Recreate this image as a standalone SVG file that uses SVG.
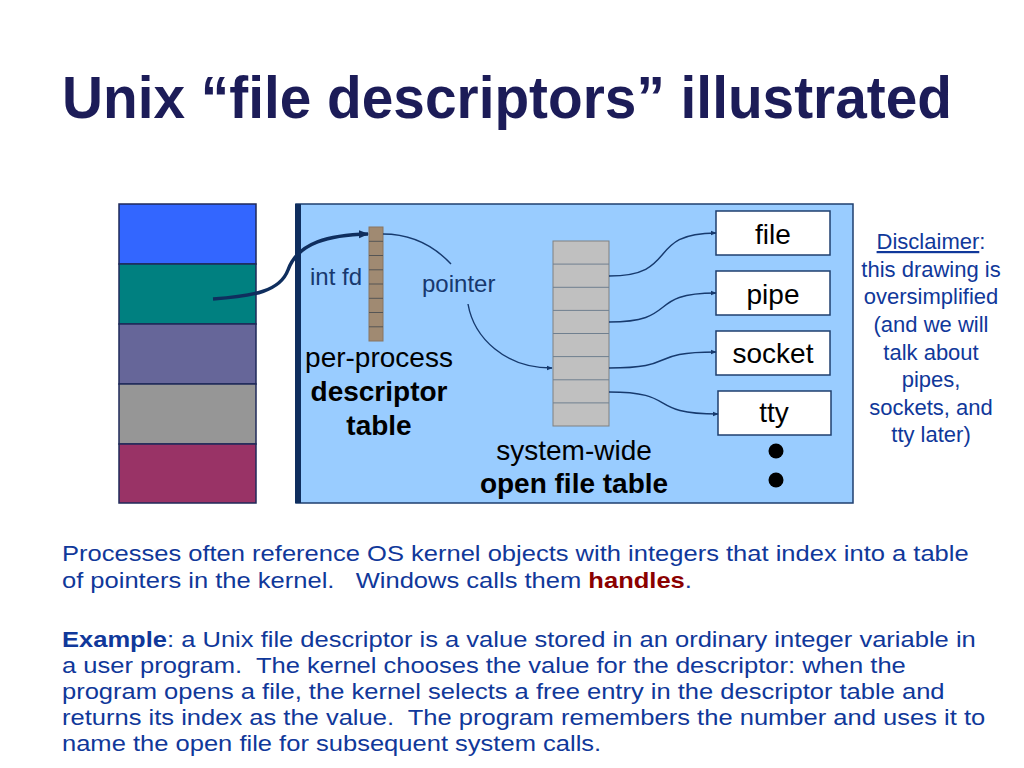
<svg xmlns="http://www.w3.org/2000/svg" width="1024" height="768" viewBox="0 0 1024 768">
<defs>
<style>
text{font-family:"Liberation Sans",Arial,sans-serif}
.title{font-size:60px;font-weight:bold;fill:#1C1C58}
.body{font-size:21.5px;fill:#10389A}
.lbl{font-size:28px;fill:#000}
.small{font-size:24px;fill:#17386E}
.disc{font-size:22px;fill:#10389A;text-anchor:middle}
.box{fill:#fff;stroke:#1F3F6F;stroke-width:1.5}
.conn{fill:none;stroke:#173A6E;stroke-width:1.4}
.cell{fill:none;stroke:#555;stroke-width:1}
</style>
<marker id="ah" viewBox="0 0 10 10" refX="9" refY="5" markerWidth="6" markerHeight="6" orient="auto" markerUnits="userSpaceOnUse">
<path d="M0,1 L10,5 L0,9 z" fill="#173A6E"/>
</marker>
<marker id="ahb" viewBox="0 0 10 10" refX="9" refY="5" markerWidth="10" markerHeight="10" orient="auto" markerUnits="userSpaceOnUse">
<path d="M0,1 L10,5 L0,9 z" fill="#0F2E5E"/>
</marker>
</defs>
<rect width="1024" height="768" fill="#fff"/>
<text class="title" x="62" y="118" textLength="890" lengthAdjust="spacingAndGlyphs">Unix “file descriptors” illustrated</text>

<g id="process-memory">
<rect x="119" y="204" width="137" height="60" fill="#3366FF" stroke="#1F2A5A" stroke-width="1.5"/>
<rect x="119" y="264" width="137" height="60" fill="#008080" stroke="#1F2A5A" stroke-width="1.5"/>
<rect x="119" y="324" width="137" height="60" fill="#666699" stroke="#1F2A5A" stroke-width="1.5"/>
<rect x="119" y="384" width="137" height="60" fill="#969696" stroke="#1F2A5A" stroke-width="1.5"/>
<rect x="119" y="444" width="137" height="59" fill="#993366" stroke="#1F2A5A" stroke-width="1.5"/>
</g>

<g id="kernel">
<rect x="296" y="204" width="557" height="299" fill="#99CCFF" stroke="#1F3F6F" stroke-width="1.5"/>
<rect x="295" y="204" width="6" height="299" fill="#0F2E5E"/>
</g>

<g id="descriptor-table">
<rect x="369" y="227" width="14" height="114" fill="#A08A72" stroke="#8A7560" stroke-width="1"/>
<path class="cell" d="M369,241.3H383M369,255.5H383M369,269.8H383M369,284H383M369,298.3H383M369,312.5H383M369,326.8H383"/>
<text class="small" x="310" y="285">int fd</text>
<text class="lbl" x="379" y="367" text-anchor="middle">per-process</text>
<text class="lbl" x="379" y="401" text-anchor="middle" font-weight="bold">descriptor</text>
<text class="lbl" x="379" y="435" text-anchor="middle" font-weight="bold">table</text>
</g>

<g id="open-file-table">
<rect x="553" y="241" width="56" height="185" fill="#C0C0C0" stroke="#808080" stroke-width="1"/>
<path d="M553,264.1H609M553,287.3H609M553,310.4H609M553,333.5H609M553,356.6H609M553,379.8H609M553,402.9H609" fill="none" stroke="#6F7F8F" stroke-width="1"/>
<text class="lbl" x="574" y="460" text-anchor="middle">system-wide</text>
<text class="lbl" x="574" y="493" text-anchor="middle" font-weight="bold">open file table</text>
</g>

<g id="file"><rect class="box" x="716" y="211" width="114" height="44"/><text class="lbl" x="773" y="244" text-anchor="middle">file</text></g>
<g id="pipe"><rect class="box" x="716" y="271" width="114" height="44"/><text class="lbl" x="773" y="304" text-anchor="middle">pipe</text></g>
<g id="socket"><rect class="box" x="716" y="331" width="114" height="44"/><text class="lbl" x="773" y="363" text-anchor="middle">socket</text></g>
<g id="tty"><rect class="box" x="718" y="391" width="113" height="44"/><text class="lbl" x="774" y="422" text-anchor="middle">tty</text></g>
<g id="more">
<circle cx="776" cy="451" r="7.5" fill="#000"/>
<circle cx="776" cy="480" r="7.5" fill="#000"/>
</g>

<g id="connectors">
<path d="M213,299 C255,296 280,291 288,270 C298,242 330,235 368,234" fill="none" stroke="#0F2E5E" stroke-width="3.5" marker-end="url(#ahb)"/>
<path class="conn" d="M383,234 C412,234 435,247 451,264"/>
<path class="conn" d="M468,304 C474,338 505,368 552,368" marker-end="url(#ah)"/>
<path class="conn" d="M609,276 C680,276 645,233 716,233" marker-end="url(#ah)"/>
<path class="conn" d="M609,322 C680,322 645,293 716,293" marker-end="url(#ah)"/>
<path class="conn" d="M609,368 C680,368 645,352 716,352" marker-end="url(#ah)"/>
<path class="conn" d="M609,392 C680,392 645,414 718,414" marker-end="url(#ah)"/>
</g>
<text class="small" x="422" y="292">pointer</text>

<g id="disclaimer">
<text class="disc" x="931" y="249"><tspan text-decoration="underline">Disclaimer</tspan>:</text>
<text class="disc" x="931" y="277">this drawing is</text>
<text class="disc" x="931" y="304">oversimplified</text>
<text class="disc" x="931" y="332">(and we will</text>
<text class="disc" x="931" y="360">talk about</text>
<text class="disc" x="931" y="387">pipes,</text>
<text class="disc" x="931" y="415">sockets, and</text>
<text class="disc" x="931" y="442">tty later)</text>
</g>

<g id="body-text" transform="matrix(1.188,0,0,1,-11.66,0)">
<text class="body" x="62" y="561">Processes often reference OS kernel objects with integers that index into a table</text>
<text class="body" x="62" y="588" xml:space="preserve">of pointers in the kernel.   Windows calls them <tspan font-weight="bold" fill="#8B0000">handles</tspan>.</text>
<text class="body" x="62" y="647"><tspan font-weight="bold">Example</tspan>: a Unix file descriptor is a value stored in an ordinary integer variable in</text>
<text class="body" x="62" y="673" xml:space="preserve">a user program.  The kernel chooses the value for the descriptor: when the</text>
<text class="body" x="62" y="699">program opens a file, the kernel selects a free entry in the descriptor table and</text>
<text class="body" x="62" y="725" xml:space="preserve">returns its index as the value.  The program remembers the number and uses it to</text>
<text class="body" x="62" y="751">name the open file for subsequent system calls.</text>
</g>
</svg>
